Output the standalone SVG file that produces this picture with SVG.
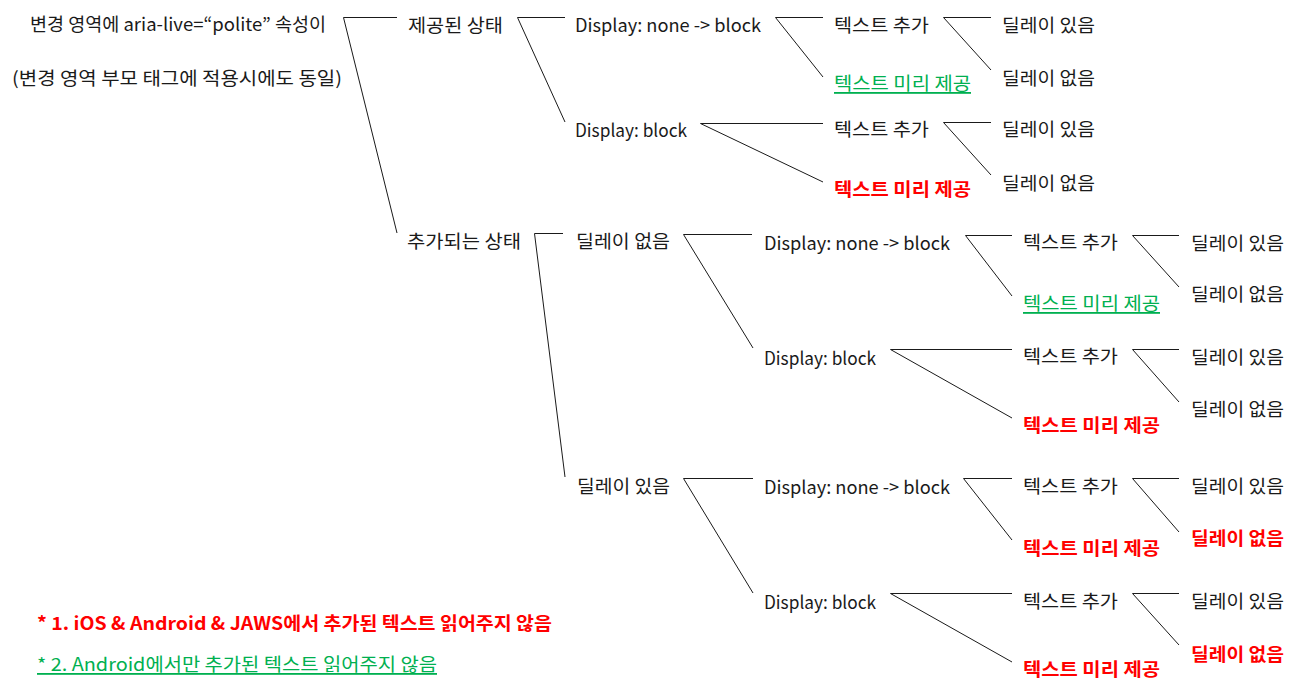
<svg xmlns="http://www.w3.org/2000/svg" width="1312" height="691" viewBox="0 0 1312 691">
<style>
text{font-family:"Noto Sans CJK KR","Noto Sans",sans-serif;font-size:18px;fill:#1a1a1a;dominant-baseline:central}
.g{fill:#00b050;text-decoration:underline}
.r{fill:#ff0000;font-weight:bold}
.c line, .c path{stroke:#1a1a1a;stroke-width:1;fill:none}
</style>
<rect width="1312" height="691" fill="#fff"/>
<g class="c" id="connectors">
<path d="M343.5,17.5H397M343.5,17.5L397,233"/>
<path d="M517.5,17.5H565M517.5,17.5L565,122"/>
<path d="M775.5,17.5H823M775.5,17.5L823,77"/>
<path d="M700.5,123.5H823M700.5,123.5L823,182"/>
<path d="M943.5,17.5H991M943.5,17.5L991,70"/>
<path d="M943.5,122.5H991M943.5,122.5L991,175"/>
<path d="M534.5,233.5H563M534.5,233.5L565,477"/>
<path d="M683.5,234.5H752M683.5,234.5L753,348"/>
<path d="M965.5,235.5H1012M965.5,235.5L1012,296"/>
<path d="M890.5,349.5H1012M890.5,349.5L1012,418"/>
<path d="M1132.5,235.5H1179M1132.5,235.5L1179,287"/>
<path d="M1132.5,349.5H1179M1132.5,349.5L1179,402"/>
<path d="M683.5,478.5H753M683.5,478.5L753,593"/>
<path d="M963.5,478.5H1012M963.5,478.5L1012,540"/>
<path d="M890.5,593.5H1012M890.5,593.5L1012,662"/>
<path d="M1132.5,478.5H1179M1132.5,478.5L1179,532"/>
<path d="M1132.5,593.5H1179M1132.5,593.5L1179,645"/>
</g>
<g id="root"><text x="30" y="23" textLength="296" lengthAdjust="spacingAndGlyphs">변경 영역에 aria-live=“polite” 속성이</text><text x="12" y="77" textLength="330" lengthAdjust="spacingAndGlyphs">(변경 영역 부모 태그에 적용시에도 동일)</text></g>
<g id="provided"><text x="408" y="24" textLength="95" lengthAdjust="spacingAndGlyphs">제공된 상태</text></g>
<g id="p-none"><text x="575" y="24" textLength="186" lengthAdjust="spacingAndGlyphs">Display: none -&gt; block</text></g>
<g id="p-none-add"><text x="834" y="24" textLength="95" lengthAdjust="spacingAndGlyphs">텍스트 추가</text></g>
<g id="p-none-add-yes"><text x="1002" y="24" textLength="93" lengthAdjust="spacingAndGlyphs">딜레이 있음</text></g>
<g id="p-none-add-no"><text x="1002" y="77" textLength="93" lengthAdjust="spacingAndGlyphs">딜레이 없음</text></g>
<g id="p-none-pre"><text class="g" x="834" y="82" textLength="137" lengthAdjust="spacingAndGlyphs">텍스트 미리 제공</text></g>
<g id="p-block"><text x="575" y="129" textLength="112" lengthAdjust="spacingAndGlyphs">Display: block</text></g>
<g id="p-block-add"><text x="834" y="128" textLength="95" lengthAdjust="spacingAndGlyphs">텍스트 추가</text></g>
<g id="p-block-add-yes"><text x="1002" y="128" textLength="93" lengthAdjust="spacingAndGlyphs">딜레이 있음</text></g>
<g id="p-block-add-no"><text x="1002" y="182" textLength="93" lengthAdjust="spacingAndGlyphs">딜레이 없음</text></g>
<g id="p-block-pre"><text class="r" x="834" y="188" textLength="137" lengthAdjust="spacingAndGlyphs">텍스트 미리 제공</text></g>
<g id="added"><text x="407" y="240" textLength="114" lengthAdjust="spacingAndGlyphs">추가되는 상태</text></g>
<g id="a-nodelay"><text x="576" y="240" textLength="94" lengthAdjust="spacingAndGlyphs">딜레이 없음</text></g>
<g id="a-nd-none"><text x="764" y="242" textLength="186" lengthAdjust="spacingAndGlyphs">Display: none -&gt; block</text></g>
<g id="a-nd-none-add"><text x="1023" y="241" textLength="95" lengthAdjust="spacingAndGlyphs">텍스트 추가</text></g>
<g id="a-nd-none-add-yes"><text x="1191" y="242" textLength="93" lengthAdjust="spacingAndGlyphs">딜레이 있음</text></g>
<g id="a-nd-none-add-no"><text x="1191" y="293" textLength="93" lengthAdjust="spacingAndGlyphs">딜레이 없음</text></g>
<g id="a-nd-none-pre"><text class="g" x="1023" y="302" textLength="137" lengthAdjust="spacingAndGlyphs">텍스트 미리 제공</text></g>
<g id="a-nd-block"><text x="764" y="357" textLength="112" lengthAdjust="spacingAndGlyphs">Display: block</text></g>
<g id="a-nd-block-add"><text x="1023" y="355" textLength="95" lengthAdjust="spacingAndGlyphs">텍스트 추가</text></g>
<g id="a-nd-block-add-yes"><text x="1191" y="356" textLength="93" lengthAdjust="spacingAndGlyphs">딜레이 있음</text></g>
<g id="a-nd-block-add-no"><text x="1191" y="408" textLength="93" lengthAdjust="spacingAndGlyphs">딜레이 없음</text></g>
<g id="a-nd-block-pre"><text class="r" x="1023" y="424" textLength="137" lengthAdjust="spacingAndGlyphs">텍스트 미리 제공</text></g>
<g id="a-delay"><text x="577" y="485" textLength="93" lengthAdjust="spacingAndGlyphs">딜레이 있음</text></g>
<g id="a-d-none"><text x="764" y="486" textLength="186" lengthAdjust="spacingAndGlyphs">Display: none -&gt; block</text></g>
<g id="a-d-none-add"><text x="1023" y="485" textLength="95" lengthAdjust="spacingAndGlyphs">텍스트 추가</text></g>
<g id="a-d-none-add-yes"><text x="1191" y="485" textLength="93" lengthAdjust="spacingAndGlyphs">딜레이 있음</text></g>
<g id="a-d-none-add-no"><text class="r" x="1191" y="537" textLength="93" lengthAdjust="spacingAndGlyphs">딜레이 없음</text></g>
<g id="a-d-none-pre"><text class="r" x="1023" y="547" textLength="137" lengthAdjust="spacingAndGlyphs">텍스트 미리 제공</text></g>
<g id="a-d-block"><text x="764" y="601" textLength="112" lengthAdjust="spacingAndGlyphs">Display: block</text></g>
<g id="a-d-block-add"><text x="1023" y="600" textLength="95" lengthAdjust="spacingAndGlyphs">텍스트 추가</text></g>
<g id="a-d-block-add-yes"><text x="1191" y="600" textLength="93" lengthAdjust="spacingAndGlyphs">딜레이 있음</text></g>
<g id="a-d-block-add-no"><text class="r" x="1191" y="653" textLength="93" lengthAdjust="spacingAndGlyphs">딜레이 없음</text></g>
<g id="a-d-block-pre"><text class="r" x="1023" y="668" textLength="137" lengthAdjust="spacingAndGlyphs">텍스트 미리 제공</text></g>
<g id="note1"><text class="r" x="37" y="622" textLength="515" lengthAdjust="spacingAndGlyphs">* 1. iOS &amp; Android &amp; JAWS에서 추가된 텍스트 읽어주지 않음</text></g>
<g id="note2"><text class="g" x="37" y="663" textLength="400" lengthAdjust="spacingAndGlyphs">* 2.  Android에서만 추가된 텍스트 읽어주지 않음</text></g>
</svg>
